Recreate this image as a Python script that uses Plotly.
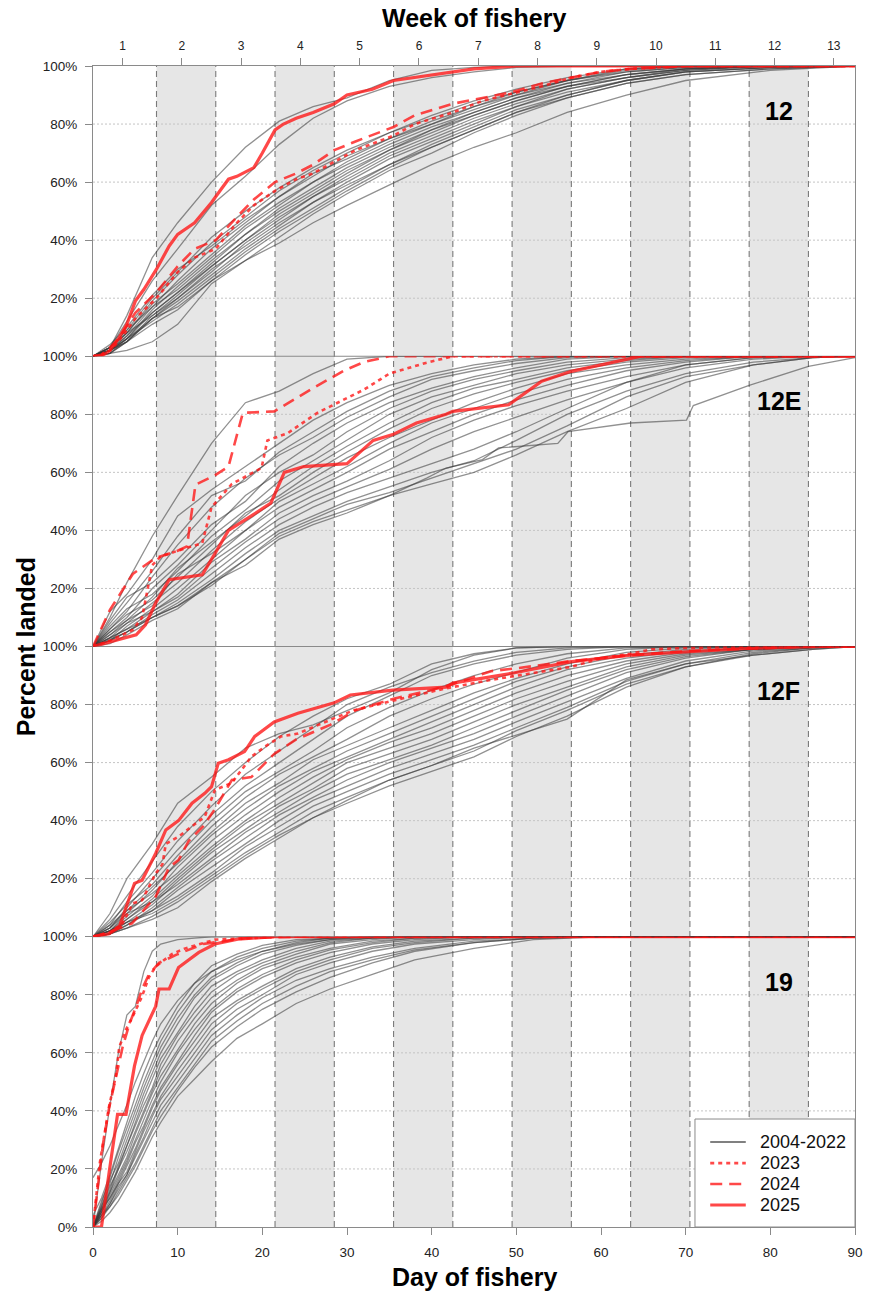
import plotly.graph_objects as go

# ---------------- data ----------------
PANELS = ["12", "12E", "12F", "19"]
WEEK_LABELS = [str(w) for w in range(1, 14)]
WEEK_MID_DAYS = [3.5, 10.5, 17.5, 24.5, 31.5, 38.5, 45.5, 52.5, 59.5, 66.5, 73.5, 80.5, 87.5]
BAND_STARTS = [7.5, 21.5, 35.5, 49.5, 63.5, 77.5]
BAND_ENDS = [14.5, 28.5, 42.5, 56.5, 70.5, 84.5]
DAY_TICKS = [0, 10, 20, 30, 40, 50, 60, 70, 80, 90]
DAY_RANGE = [0, 90]
LEGEND_LABELS = ["2004-2022", "2023", "2024", "2025"]

# Area 12, 2004-2022
DAYS_12 = [0, 2, 4, 7, 10, 14, 18, 22, 26, 30, 35, 40, 45, 50, 56, 63, 70, 80, 90]
GRAY_12 = [
    [0, 3, 14, 34, 46, 60, 72, 81, 86, 89, 95, 98.5, 99.5, 100, 100, 100, 100, 100, 100],
    [0, 3, 12, 26, 37, 52, 62, 73, 82, 88, 93, 96, 98, 99.5, 100, 100, 100, 100, 100],
    [0, 3, 9, 20, 29, 41, 50, 58, 65, 71, 77, 83, 88, 92, 96, 99, 100, 100, 100],
    [0, 2, 8, 19, 28, 39, 48, 57, 64, 70, 77, 82, 87, 91, 95, 98.5, 100, 100, 100],
    [0, 4, 10, 21, 30, 38, 47, 55, 62, 69, 75, 81, 86, 91, 95, 99, 100, 100, 100],
    [0, 2, 7, 17, 26, 37, 46, 55, 63, 68, 75, 80, 86, 90, 95, 98, 99.5, 100, 100],
    [0, 3, 8, 18, 25, 35, 45, 53, 60, 67, 74, 80, 85, 90, 94, 98, 99.5, 100, 100],
    [0, 2, 6, 16, 24, 34, 44, 52, 60, 66, 73, 79, 84, 89, 94, 97, 99, 100, 100],
    [0, 3, 9, 17, 23, 33, 42, 51, 58, 65, 72, 78, 84, 89, 93, 97, 99, 100, 100],
    [0, 1, 6, 15, 22, 32, 42, 50, 57, 64, 71, 78, 83, 88, 93, 97, 99, 100, 100],
    [0, 2, 7, 15, 22, 31, 40, 49, 56, 63, 71, 77, 83, 88, 93, 96, 99, 100, 100],
    [0, 2, 5, 14, 21, 31, 40, 48, 55, 62, 70, 76, 82, 87, 92, 96, 98.5, 100, 100],
    [0, 3, 8, 14, 20, 29, 39, 47, 55, 61, 69, 75, 81, 86, 92, 96, 98.5, 100, 100],
    [0, 1, 5, 13, 20, 30, 38, 46, 53, 60, 68, 74, 80, 86, 91, 95, 98, 99.5, 100],
    [0, 2, 6, 13, 19, 28, 37, 45, 53, 59, 66, 73, 79, 85, 90, 95, 98, 99.5, 100],
    [0, 2, 6, 12, 18, 27, 36, 44, 51, 58, 66, 72, 78, 84, 90, 95, 98, 99.5, 100],
    [0, 1, 5, 13, 17, 26, 35, 43, 50, 57, 65, 72, 78, 84, 89, 94, 97, 99, 100],
    [0, 2, 5, 11, 16, 26, 33, 41, 49, 56, 64, 70, 77, 83, 89, 94, 97, 99, 100],
    [0, 1, 2, 5, 11, 25, 33, 39, 46, 52, 59, 66, 72, 77, 84, 90, 95, 98.5, 100],
]
R12_2023_X = [0, 1, 2, 3, 5, 7.5, 10, 12, 14.5, 17, 19, 21.5, 24, 26, 28.5, 31, 35.5, 38, 42.5, 46, 49.5, 53, 56.5, 60, 63.5, 70, 90]
R12_2023_Y = [0, 0.5, 2, 5, 13, 20, 29, 34, 37, 46, 52, 57, 61, 63, 67, 71, 76, 80, 84, 88, 90.5, 93, 96, 98, 99, 100, 100]
R12_2024_X = [0, 1, 2, 3, 5, 7.5, 10, 12, 14.5, 17, 19, 21.5, 24, 26, 28.5, 31, 35.5, 38, 42.5, 46, 49.5, 53, 56.5, 60, 63.5, 70, 90]
R12_2024_Y = [0, 0.5, 3, 6, 15, 22, 31, 37, 40, 48, 54, 60, 63, 66, 71, 74, 79, 83, 87, 89, 91, 94, 96, 98, 99, 100, 100]
R12_2025_X = [0, 1, 2, 3, 4, 5, 6, 7.5, 9, 10, 12, 14, 15, 16, 17, 19, 20, 21.5, 22.5, 24, 26, 28.5, 30, 33, 35.5, 38, 40, 42.5, 45, 48, 50, 90]
R12_2025_Y = [0, 0, 2, 6, 11, 19, 23, 30, 38, 42, 46, 53, 57, 61, 62, 65, 70, 78, 80, 82, 84, 87, 90, 92, 95, 96, 97, 98, 99, 99.6, 100, 100]

# Area 12E, 2004-2022
DAYS_12E = [0, 2, 4, 7, 10, 14, 18, 22, 26, 30, 35, 40, 45, 50, 56, 63, 70, 78, 85, 90]
GRAY_12E = [
    [0, 10, 22, 38, 52, 70, 84, 88, 94, 99, 100, 100, 100, 100, 100, 100, 100, 100, 100, 100],
    [0, 12, 18, 30, 45, 54, 62, 70, 78, 84, 90, 94, 97, 99, 100, 100, 100, 100, 100, 100],
    [0, 8, 15, 26, 38, 52, 57, 67, 74, 81, 88, 93, 96, 98.5, 100, 100, 100, 100, 100, 100],
    [0, 6, 12, 24, 35, 48, 58, 66, 72, 79, 86, 92, 95, 97.5, 99.5, 100, 100, 100, 100, 100],
    [0, 9, 17, 22, 30, 42, 50, 62, 70, 77, 84, 89, 93, 96, 99, 100, 100, 100, 100, 100],
    [0, 5, 10, 20, 28, 40, 52, 60, 66, 74, 82, 88, 92, 95, 98, 99.5, 100, 100, 100, 100],
    [0, 7, 13, 18, 26, 38, 47, 57, 64, 71, 80, 86, 90, 94, 97, 99, 100, 100, 100, 100],
    [0, 4, 9, 17, 27, 36, 45, 54, 62, 69, 77, 84, 89, 92, 96, 98.5, 100, 100, 100, 100],
    [0, 6, 11, 16, 24, 35, 46, 52, 60, 67, 75, 82, 87, 91, 95, 98, 99.5, 100, 100, 100],
    [0, 3, 8, 15, 22, 33, 43, 51, 58, 65, 72, 78, 84, 89, 94, 97, 99, 100, 100, 100],
    [0, 5, 9, 14, 25, 32, 40, 50, 56, 62, 70, 77, 82, 87, 92, 96, 98.5, 100, 100, 100],
    [0, 2, 7, 13, 20, 30, 40, 48, 54, 60, 68, 74, 80, 85, 90, 95, 98, 100, 100, 100],
    [0, 4, 8, 12, 18, 29, 37, 46, 52, 57, 64, 72, 78, 83, 88, 93, 97, 99.5, 100, 100],
    [0, 3, 6, 12, 17, 27, 36, 44, 50, 55, 61, 68, 74, 79, 85, 91, 96, 99, 100, 100],
    [0, 2, 5, 11, 16, 25, 34, 42, 48, 53, 58, 63, 68, 74, 82, 91, 97, 99.5, 100, 100],
    [0, 3, 6, 10, 15, 23, 32, 40, 45, 50, 55, 60, 64, 71, 80, 88, 94, 98, 99.5, 100],
    [0, 1, 4, 9, 13, 22, 30, 39, 44, 49, 53, 58, 63, 68, 76, 86, 93, 97, 99.5, 100],
    [0, 2, 5, 10, 14, 21, 30, 38, 43, 47, 52, 56, 60, 66, 74, 82, 91, 97, 99.5, 100],
]
GRAY_12E_SLOW_X = [0, 4, 7, 10, 14, 18, 22, 26, 30, 35, 39.4, 41.7, 46, 47.9, 54.9, 56.1, 63.5, 70.1, 70.9, 77.5, 84.5, 89.7, 90]
GRAY_12E_SLOW_Y = [0, 5, 10, 14, 22, 28, 37, 42, 46, 52, 58, 61.5, 64.4, 68.4, 70, 74, 77, 78, 83, 90, 96.5, 99.4, 99.5]
R12E_2023_X = [0, 2, 4.7, 5.8, 7, 8, 10, 12.9, 14, 16.4, 19.9, 20.6, 23, 26.5, 32, 35, 39.3, 42.5, 90]
R12E_2023_Y = [0, 2, 5.7, 10, 28, 31, 33, 35.6, 48, 56, 61.5, 71, 73.5, 80.5, 88.5, 94, 97.7, 100, 100]
R12E_2024_X = [0, 2, 4.7, 7.4, 10, 11.1, 12.1, 14.4, 16, 17.7, 21.4, 24.2, 26, 29.6, 32, 35, 90]
R12E_2024_Y = [0, 12.6, 25, 30.5, 33, 34.5, 55.7, 59, 62, 80.5, 81, 86, 89, 95, 98, 100, 100]
R12E_2025_X = [0, 5.1, 6.2, 7.4, 9, 12.9, 14.4, 16, 18.7, 21, 22.6, 24.9, 30, 33.1, 35.4, 38.2, 41.7, 42.5, 49.1, 53, 56.5, 63.5, 64.7, 90]
R12E_2025_Y = [0, 4, 7.5, 15, 23, 24.7, 32, 40, 45, 49.4, 60, 62, 63, 71, 73, 77, 80, 81, 83.3, 91.4, 94.8, 99.4, 100, 100]

# Area 12F, 2004-2022
DAYS_12F = [0, 2, 4, 7, 10, 14, 18, 22, 26, 30, 35, 40, 45, 50, 56, 63, 70, 78, 85, 90]
GRAY_12F = [
    [0, 8, 20, 32, 46, 55, 65, 70, 73, 78, 84, 92, 97, 99.5, 100, 100, 100, 100, 100, 100],
    [0, 6, 14, 26, 38, 50, 60, 69, 76, 82, 87, 94, 97.5, 99.5, 100, 100, 100, 100, 100, 100],
    [0, 4, 12, 22, 33, 45, 56, 64, 72, 80, 86, 91, 95, 98, 99.5, 100, 100, 100, 100, 100],
    [0, 3, 10, 20, 30, 42, 52, 60, 68, 76, 83, 90, 94, 97, 99, 100, 100, 100, 100, 100],
    [0, 5, 11, 18, 28, 40, 50, 57, 64, 72, 79, 85, 90, 94, 97.5, 99.5, 100, 100, 100, 100],
    [0, 2, 8, 16, 26, 38, 48, 56, 62, 68, 76, 82, 87, 91, 96, 99, 100, 100, 100, 100],
    [0, 3, 9, 17, 25, 36, 46, 53, 61, 66, 72, 78, 84, 89, 94, 98, 99.5, 100, 100, 100],
    [0, 2, 7, 14, 24, 35, 44, 52, 58, 64, 70, 76, 82, 88, 93, 97, 99, 100, 100, 100],
    [0, 4, 9, 15, 22, 33, 42, 50, 57, 62, 68, 74, 80, 86, 92, 96, 98.5, 99.5, 100, 100],
    [0, 1, 6, 13, 21, 31, 40, 48, 55, 61, 67, 72, 78, 84, 90, 95, 98, 99.5, 100, 100],
    [0, 3, 8, 12, 20, 30, 39, 46, 53, 60, 65, 70, 76, 82, 88, 94, 97.5, 99, 100, 100],
    [0, 1, 5, 11, 19, 29, 37, 45, 51, 58, 63, 68, 74, 80, 86, 93, 97, 99, 100, 100],
    [0, 2, 6, 12, 18, 27, 36, 43, 50, 56, 61, 66, 72, 78, 85, 92, 96.5, 99, 100, 100],
    [0, 1, 4, 10, 17, 26, 34, 42, 48, 54, 60, 65, 70, 76, 83, 91, 96, 99, 100, 100],
    [0, 2, 5, 9, 16, 24, 32, 40, 47, 52, 58, 63, 68, 74, 81, 89, 95, 98.5, 99.5, 100],
    [0, 1, 4, 9, 14, 22, 31, 38, 45, 50, 56, 61, 66, 72, 79, 88, 94, 98, 99.5, 100],
    [0, 2, 5, 8, 13, 21, 29, 36, 43, 48, 54, 59, 64, 71, 78, 87, 93, 97.5, 99.5, 100],
    [0, 1, 3, 7, 12, 20, 28, 35, 41, 46, 52, 57, 62, 69, 76, 86, 93, 97, 99, 100],
    [0, 1, 3, 6, 10, 19, 27, 34, 41, 47, 54, 59, 65, 69.5, 75, 88.5, 94, 97, 99, 100],
]
R12F_2023_X = [0, 2, 3.5, 4.7, 5.8, 7.4, 8.2, 8.6, 10.1, 11.7, 13.2, 14.4, 16.4, 18.7, 20.3, 22.2, 24.2, 28, 30.8, 35.8, 41.7, 47, 50, 56.5, 60, 63.5, 66, 70, 78, 90]
R12F_2023_Y = [0, 1.5, 4.6, 11.5, 12.6, 21.8, 25, 32, 34.5, 38, 41.4, 50.6, 53, 62, 65.5, 69, 70, 74.7, 78, 81.6, 85.6, 88.5, 90, 93, 96, 97.5, 99, 99.5, 100, 100]
R12F_2024_X = [0, 2, 4.6, 7.4, 9, 10.1, 11.3, 13, 14.4, 16.4, 18.7, 21.4, 24, 28, 31, 35.5, 40, 42.5, 47, 50, 56.5, 63.5, 70.5, 77.5, 84.5, 90]
R12F_2024_Y = [0, 1.7, 4.6, 13.8, 24, 26.4, 33, 38, 44, 54, 55, 63, 68, 73, 78, 82, 85, 87, 91.5, 92.5, 95, 97, 98.5, 99.3, 100, 100]
R12F_2025_X = [0, 1.9, 3.1, 4.9, 5.8, 7.4, 8.6, 10.1, 11.7, 13.2, 14, 14.8, 16, 17.9, 19.1, 21.4, 24.2, 28.4, 30.4, 35.4, 41.7, 42.5, 49.5, 56.5, 63.5, 70.5, 77.5, 86, 90]
R12F_2025_Y = [0, 1, 3.4, 18.4, 19.5, 28.7, 36.8, 40, 46, 49.4, 51.7, 59.8, 61, 63.8, 69, 74, 77, 80.5, 83.3, 85, 86, 87.4, 90.8, 94.8, 97, 98.3, 99.4, 100, 100]

# Area 19, 2004-2022
DAYS_19 = [0, 1, 2, 3, 4, 5, 6, 7, 8, 10, 12, 14, 17, 20, 24, 28, 33, 38, 45, 52, 60, 90]
GRAY_19 = [
    [0, 22, 42, 60, 73, 76, 88, 95, 97.5, 99, 99.5, 100, 100, 100, 100, 100, 100, 100, 100, 100, 100, 100],
    [17, 22, 28, 35, 42, 50, 57, 64, 70, 78, 84, 88, 92, 95, 97.5, 99, 99.5, 100, 100, 100, 100, 100],
    [4, 10, 18, 27, 36, 45, 53, 60, 66, 76, 84, 90, 94, 97, 99, 99.5, 100, 100, 100, 100, 100, 100],
    [0, 8, 17, 26, 34, 42, 50, 57, 64, 74, 82, 88, 93, 96, 98.5, 99.5, 100, 100, 100, 100, 100, 100],
    [0, 7, 15, 24, 32, 40, 48, 55, 62, 72, 80, 86, 91, 95, 98, 99.5, 100, 100, 100, 100, 100, 100],
    [0, 9, 16, 22, 30, 38, 46, 53, 60, 70, 79, 85, 90, 94, 97, 99, 100, 100, 100, 100, 100, 100],
    [0, 6, 13, 21, 28, 36, 44, 51, 58, 67, 76, 83, 88, 92, 96, 98.5, 99.5, 100, 100, 100, 100, 100],
    [0, 5, 12, 20, 28, 35, 42, 48, 56, 66, 74, 81, 87, 91, 95, 98, 99.5, 100, 100, 100, 100, 100],
    [0, 7, 14, 20, 26, 33, 40, 47, 54, 64, 72, 79, 85, 90, 94, 97.5, 99, 100, 100, 100, 100, 100],
    [0, 6, 12, 18, 24, 32, 39, 46, 52, 61, 70, 77, 84, 89, 93, 96, 98.5, 99.5, 100, 100, 100, 100],
    [0, 5, 11, 17, 23, 30, 37, 44, 50, 60, 68, 75, 82, 87, 92, 95.5, 98, 99.5, 100, 100, 100, 100],
    [0, 6, 10, 16, 22, 29, 35, 42, 48, 57, 66, 74, 81, 86, 91, 94.5, 97.5, 99, 100, 100, 100, 100],
    [0, 4, 9, 15, 21, 27, 34, 41, 47, 56, 64, 72, 78, 83, 89, 93, 96.5, 98.5, 99.5, 100, 100, 100],
    [0, 5, 10, 15, 19, 26, 33, 39, 45, 54, 62, 70, 77, 82, 88, 92, 96, 98, 99.5, 100, 100, 100],
    [0, 4, 8, 14, 18, 25, 31, 38, 44, 52, 60, 68, 75, 80, 87, 91, 95, 97.5, 99, 100, 100, 100],
    [0, 3, 8, 13, 18, 24, 30, 36, 42, 50, 58, 66, 73, 79, 85, 89, 93, 96, 98.5, 99.5, 100, 100],
    [0, 4, 7, 12, 17, 22, 28, 34, 40, 48, 56, 64, 71, 77, 83, 88, 92, 95.5, 98, 99.5, 100, 100],
    [0, 3, 7, 11, 16, 21, 27, 33, 38, 47, 55, 62, 69, 75, 81, 86, 91, 95, 98, 99.5, 100, 100],
    [0, 2, 5, 9, 14, 19, 25, 31, 36, 45, 51, 57, 65, 70, 77, 82, 87, 92, 96, 99, 100, 100],
]
R19_2023_X = [0, 0.8, 1.9, 2.7, 3.1, 3.9, 4.7, 5.8, 6.6, 7.4, 9.3, 10.9, 14.4, 18.7, 22, 90]
R19_2023_Y = [0, 22, 41.6, 52, 62, 68, 72.6, 79.5, 86, 89.7, 94, 96, 99, 99.5, 100, 100]
R19_2024_X = [0, 0.4, 1.2, 1.9, 2.7, 3.5, 4.3, 5.1, 5.8, 6.6, 7.8, 10, 13, 18, 24, 90]
R19_2024_Y = [0, 10, 29, 41, 52, 62, 70, 76, 82, 87, 91, 94, 97.5, 99.5, 100, 100]
R19_2025_X = [0, 1, 1.9, 2.9, 3.9, 4.9, 5.8, 7.4, 7.8, 9, 10.1, 12.5, 14.4, 17.1, 21.4, 90]
R19_2025_Y = [0, 0, 18.7, 38.8, 38.8, 55.5, 66, 76, 82, 82, 89.4, 94.6, 97.5, 99.2, 100, 100]

# ---------------- styling ----------------
FONT = "Liberation Sans, Arial, sans-serif"
GRAY_LINE = "rgba(55,55,55,0.55)"
RED_LINE = "rgba(255,20,20,0.78)"
AXIS_COL = "#8a8a8a"
DOT_DASH = "4px,4px"
DASH_DASH = "12px,7px"

W, H = 873, 1297
ML, MR, MT, MB = 93, 10, 66, 70

panel_data = [
    (DAYS_12, GRAY_12, [], (R12_2023_X, R12_2023_Y), (R12_2024_X, R12_2024_Y), (R12_2025_X, R12_2025_Y)),
    (DAYS_12E, GRAY_12E, [(GRAY_12E_SLOW_X, GRAY_12E_SLOW_Y)], (R12E_2023_X, R12E_2023_Y), (R12E_2024_X, R12E_2024_Y), (R12E_2025_X, R12E_2025_Y)),
    (DAYS_12F, GRAY_12F, [], (R12F_2023_X, R12F_2023_Y), (R12F_2024_X, R12F_2024_Y), (R12F_2025_X, R12F_2025_Y)),
    (DAYS_19, GRAY_19, [], (R19_2023_X, R19_2023_Y), (R19_2024_X, R19_2024_Y), (R19_2025_X, R19_2025_Y)),
]

fig = go.Figure()
n = len(PANELS)
for i, (days, grays, extra, r23, r24, r25) in enumerate(panel_data):
    yname = "y" if i == 0 else f"y{i+1}"
    for g in grays:
        fig.add_trace(go.Scatter(x=days, y=g, xaxis="x", yaxis=yname, mode="lines",
                                 line=dict(color=GRAY_LINE, width=1.3), showlegend=False,
                                 hoverinfo="skip"))
    for ex, ey in extra:
        fig.add_trace(go.Scatter(x=ex, y=ey, xaxis="x", yaxis=yname, mode="lines",
                                 line=dict(color=GRAY_LINE, width=1.3), showlegend=False,
                                 hoverinfo="skip"))
    fig.add_trace(go.Scatter(x=r23[0], y=r23[1], xaxis="x", yaxis=yname, mode="lines",
                             line=dict(color=RED_LINE, width=2.6, dash=DOT_DASH), showlegend=False))
    fig.add_trace(go.Scatter(x=r24[0], y=r24[1], xaxis="x", yaxis=yname, mode="lines",
                             line=dict(color=RED_LINE, width=2.6, dash=DASH_DASH), showlegend=False))
    fig.add_trace(go.Scatter(x=r25[0], y=r25[1], xaxis="x", yaxis=yname, mode="lines",
                             line=dict(color=RED_LINE, width=3.2), showlegend=False))

# empty helper trace so the top (week) axis gets drawn
fig.add_trace(go.Scatter(x=DAY_RANGE, y=[None, None], xaxis="x2", yaxis="y", mode="lines",
                         showlegend=False, hoverinfo="skip"))

layout = dict(
    width=W, height=H,
    margin=dict(l=ML, r=MR, t=MT, b=MB),
    paper_bgcolor="white", plot_bgcolor="white",
    font=dict(family=FONT, color="#222"),
    showlegend=False,
    xaxis=dict(domain=[0, 1], range=DAY_RANGE, anchor="y4", tickvals=DAY_TICKS,
               ticks="outside", ticklen=7, tickcolor=AXIS_COL, showgrid=False, zeroline=False,
               showline=True, linecolor=AXIS_COL, linewidth=1,
               tickfont=dict(size=13.5, color="#222"), ticklabelstandoff=6),
    xaxis2=dict(domain=[0, 1], range=DAY_RANGE, overlaying="x", anchor="y", side="top",
                tickvals=WEEK_MID_DAYS, ticktext=WEEK_LABELS,
                ticks="outside", ticklen=7, tickcolor=AXIS_COL, showgrid=False, zeroline=False,
                showline=True, linecolor=AXIS_COL, linewidth=1,
                tickfont=dict(size=12, color="#222"), ticklabelstandoff=3),
)
for i in range(n):
    key = "yaxis" if i == 0 else f"yaxis{i+1}"
    top = 1 - i / n
    bot = 1 - (i + 1) / n
    vals = [20, 40, 60, 80, 100] if i < n - 1 else [0, 20, 40, 60, 80, 100]
    layout[key] = dict(domain=[bot, top], range=[0, 100], anchor="x",
                       tickvals=vals, ticktext=[f"{v}%" for v in vals],
                       ticks="outside", ticklen=7, tickcolor=AXIS_COL,
                       showgrid=False, zeroline=False,
                       showline=True, mirror=True, linecolor=AXIS_COL, linewidth=1,
                       tickfont=dict(size=13.5, color="#222"), ticklabelstandoff=5)
fig.update_layout(**layout)

shapes = []
# week bands
for a, b in zip(BAND_STARTS, BAND_ENDS):
    shapes.append(dict(type="rect", xref="x", yref="paper", x0=a, x1=b, y0=0, y1=1,
                       fillcolor="#e6e6e6", line=dict(width=0), layer="below"))
# horizontal dotted grid
for i in range(n):
    yref = "y" if i == 0 else f"y{i+1}"
    for v in [20, 40, 60, 80]:
        shapes.append(dict(type="line", xref="paper", yref=yref, x0=0, x1=1, y0=v, y1=v,
                           line=dict(color="#c4c4c4", width=1, dash="2px,2px"), layer="below"))
# dashed band edges
for e in BAND_STARTS + BAND_ENDS:
    shapes.append(dict(type="line", xref="x", yref="paper", x0=e, x1=e, y0=0, y1=1,
                       line=dict(color="#7a7a7a", width=1.1, dash="6px,4px"), layer="below"))
# panel boundaries
for i in range(1, n):
    yb = 1 - i / n
    shapes.append(dict(type="line", xref="paper", yref="paper", x0=0, x1=1, y0=yb, y1=yb,
                       line=dict(color=AXIS_COL, width=1.2), layer="below"))

# legend (drawn in bottom panel)
ly = "y4"
shapes.append(dict(type="rect", xref="x", yref=ly, x0=71.1, x1=90, y0=0, y1=37.2,
                   fillcolor="white", line=dict(color=AXIS_COL, width=1), layer="above"))
leg_y = [29.3, 22.0, 14.8, 7.6]
leg_styles = [dict(color="rgb(128,128,128)", width=2),
              dict(color=RED_LINE, width=2.6, dash=DOT_DASH),
              dict(color=RED_LINE, width=2.6, dash=DASH_DASH),
              dict(color=RED_LINE, width=3)]
for yy, st in zip(leg_y, leg_styles):
    shapes.append(dict(type="line", xref="x", yref=ly, x0=72.9, x1=77.1, y0=yy, y1=yy,
                       line=st, layer="above"))
fig.update_layout(shapes=shapes)

ann = []
for yy, lab in zip(leg_y, LEGEND_LABELS):
    ann.append(dict(x=78.6, y=yy, xref="x", yref=ly, text=lab, showarrow=False,
                    xanchor="left", yanchor="middle", font=dict(size=18, color="#111")))
for i, p in enumerate(PANELS):
    yref = "y" if i == 0 else f"y{i+1}"
    ann.append(dict(x=81, y=84.5, xref="x", yref=yref, text=p, showarrow=False,
                    xanchor="center", yanchor="middle",
                    font=dict(size=25, color="black", weight="bold")))
plot_h = H - MT - MB
plot_w = W - ML - MR
ann.append(dict(x=0.5, y=1 + (MT - 18) / plot_h, xref="paper", yref="paper",
                text="Week of fishery", showarrow=False, xanchor="center", yanchor="middle",
                font=dict(size=25, color="black", weight="bold")))
ann.append(dict(x=0.5, y=-(1277 - (H - MB)) / plot_h, xref="paper", yref="paper",
                text="Day of fishery", showarrow=False, xanchor="center", yanchor="middle",
                font=dict(size=25, color="black", weight="bold")))
ann.append(dict(x=-(ML - 25) / plot_w, y=0.5, xref="paper", yref="paper",
                text="Percent landed", showarrow=False, xanchor="center", yanchor="middle",
                textangle=-90, font=dict(size=25, color="black", weight="bold")))
fig.update_layout(annotations=ann)

fig.write_html("out.html")
